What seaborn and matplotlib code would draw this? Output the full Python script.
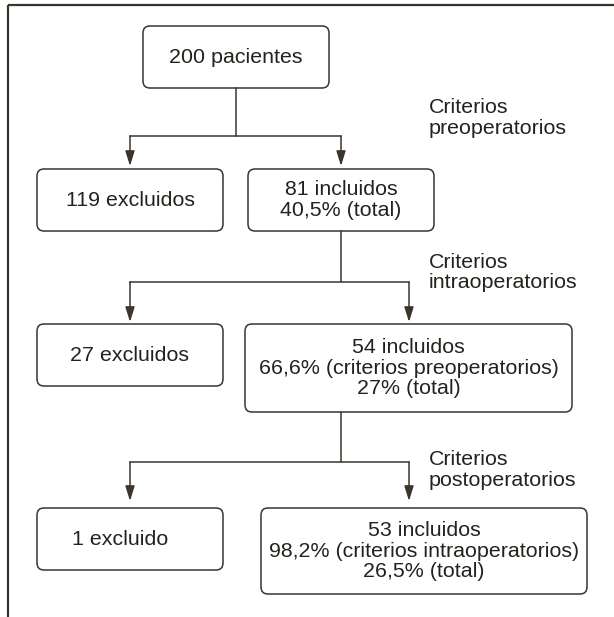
import matplotlib
matplotlib.use("Agg")
import matplotlib.pyplot as plt
from matplotlib.patches import FancyBboxPatch
import seaborn as sns

# ---------------- data ----------------
total_patients = 200
stages = ["preoperatorios", "intraoperatorios", "postoperatorios"]
excluded = [119, 27, 1]
included = [81, 54, 53]
pct_previous = [None, "66,6%", "98,2%"]
previous_stage = [None, "preoperatorios", "intraoperatorios"]
pct_total = ["40,5%", "27%", "26,5%"]

# ---------------- layout (pixels, origin top-left) ----------------
W, H = 614, 617
start_box = (143, 26, 329, 88)
excl_boxes = [(37, 169, 223, 231), (37, 324, 223, 386), (37, 508, 223, 570)]
incl_boxes = [(248, 169, 434, 231), (245, 324, 572, 412), (261, 508, 587, 594)]
excl_text_dx = [0, 0, -10]
stem_x = [236, 341, 341]
branch_y = [136, 282, 462]
arrow_left_x = [130, 130, 130]
arrow_right_x = [341, 409, 409]
arrow_tip_y = [166, 322, 501]
crit_x = 429
crit_baseline = [113, 268, 465]
line_pitch = 20.5
base_offset = 5.7

line_col = "#3b342b"
text_col = "#25211c"
fs = 15.4

sns.set_theme(style="white")
plt.rcParams["font.family"] = ["Liberation Sans", "DejaVu Sans"]

fig = plt.figure(figsize=(W / 100, H / 100), dpi=100)
ax = fig.add_axes([0, 0, 1, 1])
ax.set_xlim(0, W)
ax.set_ylim(H, 0)
ax.axis("off")

# frame (top and left)
ax.plot([8, W], [5, 5], color=line_col, lw=1.6, solid_capstyle="butt")
ax.plot([8, 8], [5, H], color=line_col, lw=1.6, solid_capstyle="butt")


def draw_box(box, lines, dx=0):
    x0, y0, x1, y1 = box
    p = FancyBboxPatch((x0, y0), x1 - x0, y1 - y0,
                       boxstyle="round,pad=0,rounding_size=7",
                       fc="white", ec=line_col, lw=1.1)
    ax.add_patch(p)
    cx = (x0 + x1) / 2 + dx
    cy = (y0 + y1) / 2
    n = len(lines)
    for i, t in enumerate(lines):
        yb = cy + (i - (n - 1) / 2) * line_pitch + base_offset
        ax.text(cx, yb, t, ha="center", va="baseline", fontsize=fs, color=text_col)


def arrow(x, y0, y1):
    ax.annotate("", xy=(x, y1), xytext=(x, y0),
                arrowprops=dict(arrowstyle="-|>,head_length=0.9,head_width=0.28",
                                color=line_col, lw=1.1, shrinkA=0, shrinkB=0,
                                mutation_scale=10))


draw_box(start_box, [f"{total_patients} pacientes"])

parents = [start_box] + incl_boxes[:-1]
for k in range(3):
    pb = parents[k]
    # stem from parent
    ax.plot([stem_x[k], stem_x[k]], [pb[3], branch_y[k]], color=line_col, lw=1.1)
    ax.plot([arrow_left_x[k], arrow_right_x[k]], [branch_y[k], branch_y[k]],
            color=line_col, lw=1.1, solid_capstyle="projecting")
    arrow(arrow_left_x[k], branch_y[k], arrow_tip_y[k])
    arrow(arrow_right_x[k], branch_y[k], arrow_tip_y[k])
    # criteria label
    ax.text(crit_x, crit_baseline[k], "Criterios", ha="left", va="baseline",
            fontsize=fs, color=text_col)
    ax.text(crit_x, crit_baseline[k] + line_pitch, stages[k], ha="left",
            va="baseline", fontsize=fs, color=text_col)
    # excluded box
    e = excluded[k]
    draw_box(excl_boxes[k], [f"{e} excluido" + ("s" if e != 1 else "")], excl_text_dx[k])
    # included box
    lines = [f"{included[k]} incluidos"]
    if pct_previous[k] is not None:
        lines.append(f"{pct_previous[k]} (criterios {previous_stage[k]})")
    lines.append(f"{pct_total[k]} (total)")
    draw_box(incl_boxes[k], lines)

fig.savefig("out.png", dpi=100)
